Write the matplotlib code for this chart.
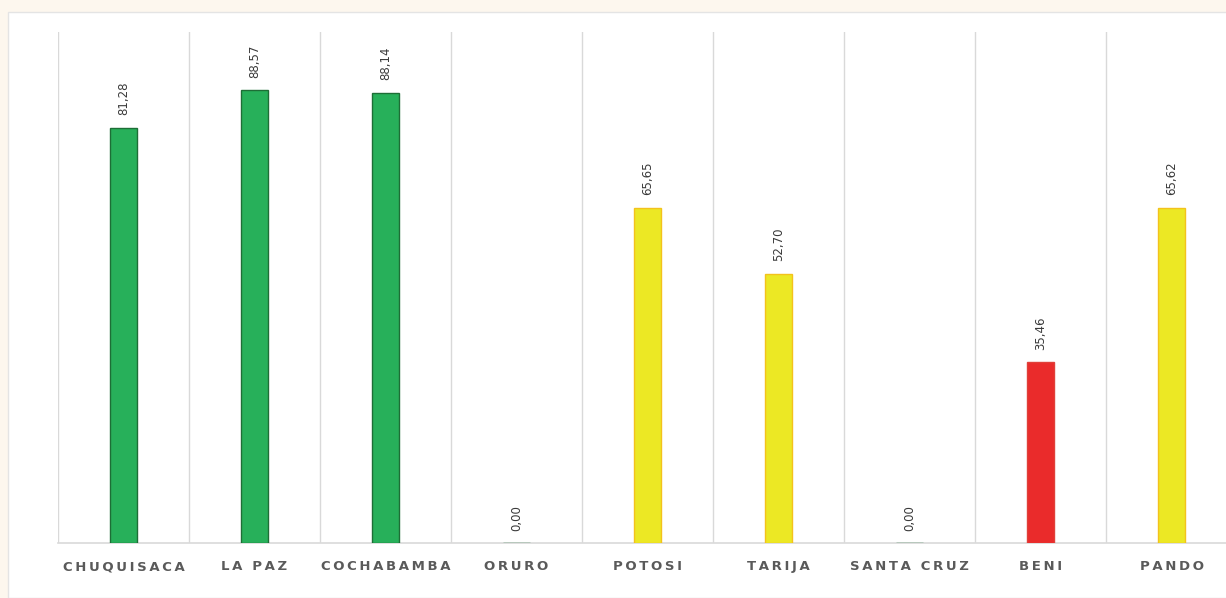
#!/usr/bin/env python3
# -*- coding: utf-8 -*-
"""
Balkendiagramm pro Departamento (Bolivien), Werte mit Komma als Dezimaltrenner.
"""
import matplotlib
matplotlib.use("Agg")
import matplotlib.pyplot as plt
from matplotlib.patches import Rectangle

# — Daten —
departamentos = ["CHUQUISACA", "LA PAZ", "COCHABAMBA", "ORURO", "POTOSI",
                 "TARIJA", "SANTA CRUZ", "BENI", "PANDO"]
valores = [81.28, 88.57, 88.14, 0.00, 65.65, 52.70, 0.00, 35.46, 65.62]
semaforo = ["verde", "verde", "verde", "verde", "amarillo",
            "amarillo", "verde", "rojo", "amarillo"]

FILL = {"verde": "#27b05a", "amarillo": "#ece824", "rojo": "#ea2b2b"}
EDGE = {"verde": "#1d6e36", "amarillo": "#f3c21c", "rojo": "#e0403a"}

W, H = 1226, 598
fig = plt.figure(figsize=(W / 100, H / 100), dpi=100, facecolor="#fdf7ee")

# weißes Panel (hinter dem Diagramm)
panel = Rectangle((8 / W, 0), 1, 1 - 12 / H, transform=fig.transFigure,
                  facecolor="white", edgecolor="#e4e4e4", lw=1.0, zorder=-5)
fig.add_artist(panel)

ax = fig.add_axes([58 / W, 1 - 543 / H, (9 * 131) / W, (543 - 32) / H])
ax.set_zorder(1)
ax.set_facecolor("none")

n = len(departamentos)
x = list(range(n))
ax.bar(x, valores, width=0.2,
       color=[FILL[s] for s in semaforo],
       edgecolor=[EDGE[s] for s in semaforo], linewidth=1.0, zorder=3)

for xi, v in zip(x, valores):
    ax.text(xi, v + 2.4, f"{v:.2f}".replace(".", ","), rotation=90,
            ha="center", va="bottom", fontsize=8.5, color="#3a3a3a",
            family="DejaVu Sans", zorder=4)

# Gitterlinien zwischen den Kategorien
for b in range(n + 1):
    ax.axvline(b - 0.5, color="#d9d9d9", lw=1.0, zorder=1)

ax.set_xlim(-0.5, n - 0.5)
ax.set_ylim(0, 100)
ax.set_yticks([])
ax.set_xticks(x)
ax.set_xticklabels(["\u2009".join(d) for d in departamentos],
                   fontsize=9.5, fontweight="bold", color="#5a5a5a",
                   family="DejaVu Sans")
ax.tick_params(axis="x", length=0, pad=12.5)
for side in ["top", "right", "left"]:
    ax.spines[side].set_visible(False)
ax.spines["bottom"].set_color("#d9d9d9")
ax.spines["bottom"].set_linewidth(1.2)

fig.savefig("out.png", dpi=100, facecolor=fig.get_facecolor())
